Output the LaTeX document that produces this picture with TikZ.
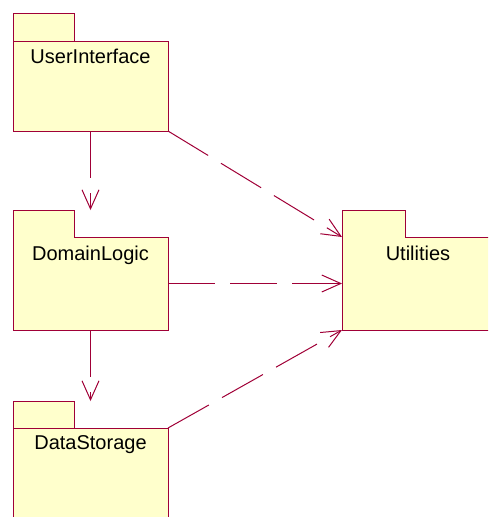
\documentclass[tikz,border=0pt]{standalone}
\usepackage{fontspec}
\setmainfont{Liberation Sans}
\usetikzlibrary{arrows.meta}
\definecolor{umlline}{RGB}{160,0,55}
\definecolor{umlfill}{RGB}{255,255,204}
\begin{document}
\begin{tikzpicture}[x=1pt,y=-1pt,
  pkgbody/.style={draw=umlline, fill=umlfill, line width=1pt, inner sep=0pt, outer sep=0pt, anchor=north west},
  pkgtab/.style={fill=umlfill, draw=none, inner sep=0pt, outer sep=0pt, anchor=north west},
  tabline/.style={draw=umlline, line width=1pt},
  pkglabel/.style={anchor=base, inner sep=0pt, font=\fontsize{20}{24}\selectfont},
  dep/.style={draw=umlline, line width=1pt, dash pattern=on 47pt off 15pt,
    -{Straight Barb[length=19pt,width=17pt]}}
]
\useasboundingbox (0,0) rectangle (488,517);
\clip (0,0) rectangle (488,517);

% UserInterface
\node[pkgtab, minimum width=61pt, minimum height=28pt] (uitab) at (13,13) {};
\draw[tabline] (uitab.south west) -- (uitab.north west) -- (uitab.north east) -- (uitab.south east);
\node[pkgbody, minimum width=155pt, minimum height=90pt] (ui) at (13,41) {};
\node[pkglabel] (uilabel) at ([yshift=-22pt]ui.north) {UserInterface};

% DomainLogic
\node[pkgbody, minimum width=155pt, minimum height=93pt] (dl) at (13,237) {};
\node[pkgtab, minimum width=61pt, minimum height=28pt] (dltab) at (13,210) {};
\draw[tabline] (dltab.south west) -- (dltab.north west) -- (dltab.north east) -- (dltab.south east);
\node[pkglabel] (dllabel) at ([yshift=-23pt]dl.north) {DomainLogic};

% DataStorage
\node[pkgtab, minimum width=61pt, minimum height=27pt] (dstab) at (13,401) {};
\draw[tabline] (dstab.south west) -- (dstab.north west) -- (dstab.north east) -- (dstab.south east);
\node[pkgbody, minimum width=155pt, minimum height=110pt] (ds) at (13,428) {};
\node[pkglabel] (dslabel) at ([yshift=-21pt]ds.north) {DataStorage};

% Utilities
\node[pkgbody, minimum width=152pt, minimum height=93pt] (ut) at (342,237) {};
\node[pkgtab, minimum width=63pt, minimum height=28pt] (uttab) at (342,210) {};
\draw[tabline] (uttab.south west) -- (uttab.north west) -- (uttab.north east) -- (uttab.south east);
\node[pkglabel] (utlabel) at ([yshift=-23pt]ut.north) {Utilities};

% Dependencies
\draw[dep] (ui.south) -- (ui.south |- dltab.north);
\draw[dep] (dl.south) -- (dl.south |- dstab.north);
\draw[dep] (ui.south east) -- (ut.north west);
\draw[dep] (dl.east) -- (ut.west);
\draw[dep] (ds.north east) -- (ut.south west);
\end{tikzpicture}
\end{document}
